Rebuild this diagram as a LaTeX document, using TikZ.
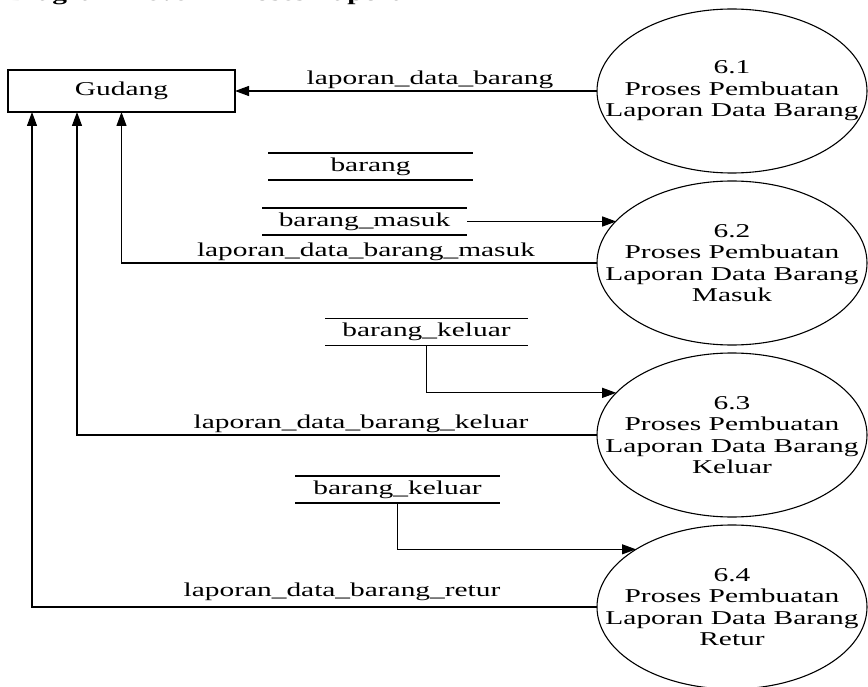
\documentclass[tikz,border=0pt]{standalone}
\usepackage{fontspec}
\setmainfont{Liberation Serif}[FakeStretch=1.5]
\usetikzlibrary{arrows.meta,shapes.geometric}
\begin{document}
\begin{tikzpicture}[x=1pt,y=-1pt,
  every node/.style={font=\fontsize{19.6}{21.5}\selectfont},
  proc/.style={ellipse,draw,line width=1.1pt,minimum width=270pt,minimum height=164pt,inner sep=0pt,outer sep=0pt},
  proctext/.style={inner sep=0pt,align=center},
  ent/.style={rectangle,draw,line width=1.1pt,minimum width=227pt,minimum height=42pt,inner sep=0pt,outer sep=0pt},
  store/.style={minimum width=205pt,minimum height=27pt,inner sep=0pt,outer sep=0pt},
  storeline/.style={line width=1.1pt},
  flow/.style={line width=1.1pt,-{Triangle[length=14pt,width=10pt]}},
  lbl/.style={inner sep=0pt,anchor=base}]
\clip (0,0) rectangle (868,687);
\fill[white] (0,0) rectangle (868,687);
\node[font=\bfseries\fontsize{19.6}{21.5}\selectfont, anchor=base west, inner sep=0pt] (title) at (8,1) {Diagram Level 2 Proses Laporan};

\node[ent] (g) at (121.5,91) {Gudang};
\node[proc] (p1) at (732,91) {};
\node[proctext] (p1t) at (p1.center) {6.1\\Proses Pembuatan\\Laporan Data Barang};
\node[proc] (p2) at (732,263) {};
\node[proctext] (p2t) at (p2.center) {6.2\\Proses Pembuatan\\Laporan Data Barang\\Masuk};
\node[proc] (p3) at (732,435) {};
\node[proctext] (p3t) at (p3.center) {6.3\\Proses Pembuatan\\Laporan Data Barang\\Keluar};
\node[proc] (p4) at (732,607) {};
\node[proctext] (p4t) at (p4.center) {6.4\\Proses Pembuatan\\Laporan Data Barang\\Retur};

\node[store] (s1) at (370.5,166.5) {barang};
\node[store] (s2) at (364.5,221.5) {barang\_masuk};
\node[store,minimum width=203pt] (s3) at (426.5,332) {barang\_keluar};
\node[store] (s4) at (397.5,489.5) {barang\_keluar};
\foreach \s in {s1,s2,s3,s4}{
  \draw[storeline] (\s.north west) -- (\s.north east) (\s.south west) -- (\s.south east);
}

\draw[flow] (p1.west) -- (g.east);
\draw[flow] (s2.east) -- (s2.east -| p2.160);
\draw[flow] (p2.west) -| (g.south);
\draw[flow] (s3.south) |- (p3.160);
\draw[flow] (p3.west) -| ([xshift=-44.5pt]g.south);
\draw[flow] (s4.south) |- (p4.149);
\draw[flow] (p4.west) -| ([xshift=-89.5pt]g.south);

\node[lbl] (l1) at (430,85) {laporan\_data\_barang};
\node[lbl] (l2) at (366,257) {laporan\_data\_barang\_masuk};
\node[lbl] (l3) at (361,428) {laporan\_data\_barang\_keluar};
\node[lbl] (l4) at (342,596) {laporan\_data\_barang\_retur};
\end{tikzpicture}
\end{document}
